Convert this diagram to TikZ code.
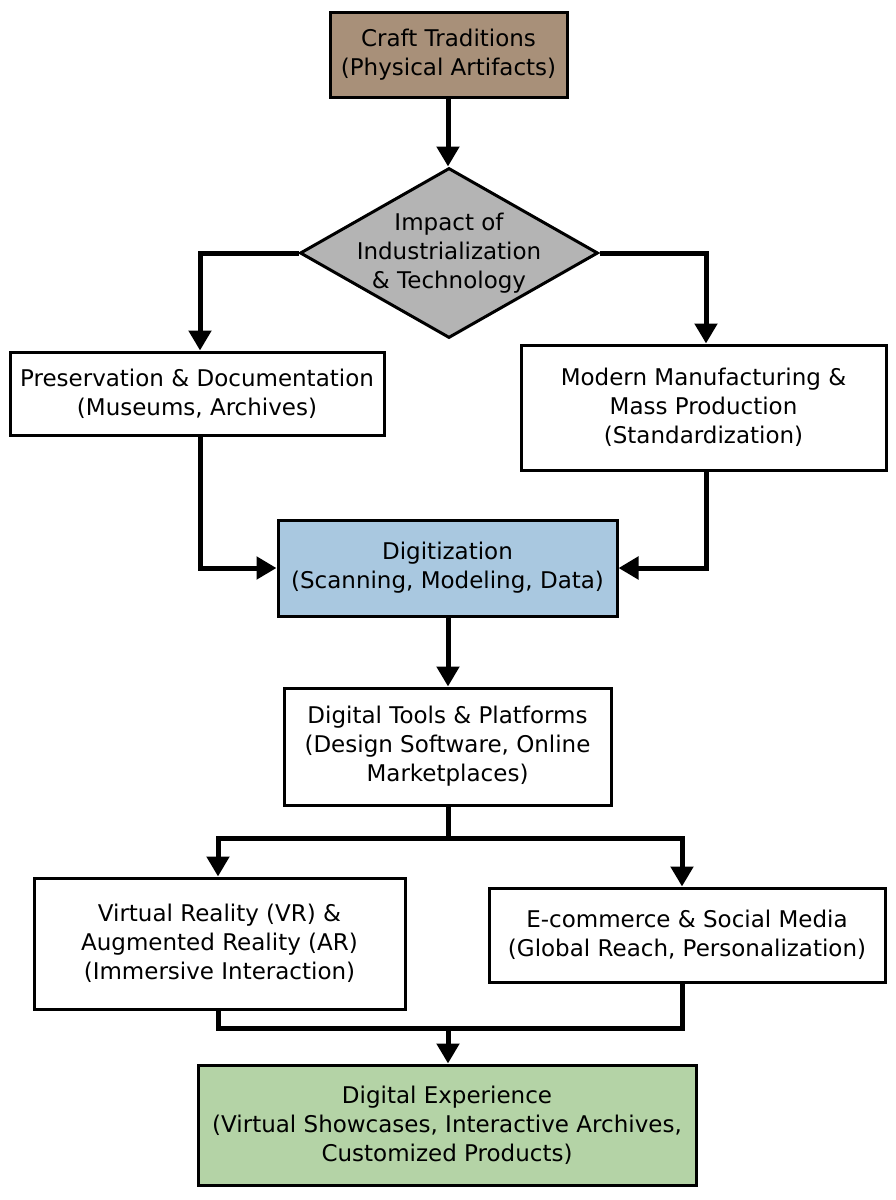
\documentclass[tikz,border=0pt]{standalone}
\usepackage{fontspec}
\setmainfont{DejaVu Sans}
\usetikzlibrary{arrows.meta,shapes.geometric}
\definecolor{brownf}{HTML}{A89079}
\definecolor{bluef}{HTML}{A9C8E0}
\definecolor{greenf}{HTML}{B4D3A6}
\definecolor{grayf}{HTML}{B4B4B4}
\begin{document}
\begin{tikzpicture}[x=1pt,y=-1pt,
  box/.style={draw,line width=3pt,fill=white,align=center,inner sep=0pt},
  txt/.style={font=\fontsize{23}{29}\selectfont,align=center},
  con/.style={line width=5pt,-{Triangle[length=20pt,width=22pt]}},
  ln/.style={line width=5pt}]
\useasboundingbox (0,0) rectangle (896,1200);
\newcommand\bx[6]{\node[box,fill=#6,minimum width=#3-#2,minimum height=#5-#4] (#1) at ({(#2+#3)/2},{(#4+#5)/2}) {};}
\bx{craft}{330}{567}{12}{97}{brownf}
\node[txt] at (craft) {Craft Traditions\\(Physical Artifacts)};
\node[diamond,draw,line width=3pt,fill=grayf,minimum width=298,minimum height=170,aspect=1.75,inner sep=0pt] (dia) at (449,253) {};
\node[txt] at (dia) {Impact of\\Industrialization\\\& Technology};
\bx{pres}{10}{384}{352}{435}{white}
\node[txt] at (pres) {Preservation \& Documentation\\(Museums, Archives)};
\bx{mod}{521}{886}{345}{470}{white}
\node[txt] at (mod) {Modern Manufacturing \&\\Mass Production\\(Standardization)};
\bx{dig}{278}{617}{520}{616}{bluef}
\node[txt] at (dig) {Digitization\\(Scanning, Modeling, Data)};
\bx{tools}{284}{611}{688}{805}{white}
\node[txt] at (tools) {Digital Tools \& Platforms\\(Design Software, Online\\Marketplaces)};
\bx{vr}{34}{405}{878}{1009}{white}
\node[txt] at (vr) {Virtual Reality (VR) \&\\Augmented Reality (AR)\\(Immersive Interaction)};
\bx{ec}{489}{885}{888}{982}{white}
\node[txt] at (ec) {E-commerce \& Social Media\\(Global Reach, Personalization)};
\bx{exp}{198}{696}{1065}{1185}{greenf}
\node[txt] at (exp) {Digital Experience\\(Virtual Showcases, Interactive Archives,\\Customized Products)};
\coordinate (s1) at (448,838);
\coordinate (m1) at (448,1028);
\draw[con] (craft.south -| 448,0) -- (dia.north -| 448,0);
\draw[con] (dia.west) -| (pres.north -| 200,0);
\draw[con] (dia.east) -| (mod.north -| 706,0);
\draw[con] (pres.south -| 200,0) |- (dig.west);
\draw[con] (mod.south -| 706,0) |- (dig.east);
\draw[con] (dig.south -| 448,0) -- (tools.north -| 448,0);
\draw[ln] (tools.south -| 448,0) -- (s1);
\draw[con] ([xshift=2.5pt]s1) -| (vr.north -| 218,0);
\draw[con] ([xshift=-2.5pt]s1) -| (ec.north -| 682,0);
\draw[ln] (vr.south -| 218,0) |- ([xshift=2.5pt]m1);
\draw[ln] (ec.south -| 682,0) |- ([xshift=-2.5pt]m1);
\draw[con] (m1) -- (exp.north -| 448,0);
\end{tikzpicture}
\end{document}
